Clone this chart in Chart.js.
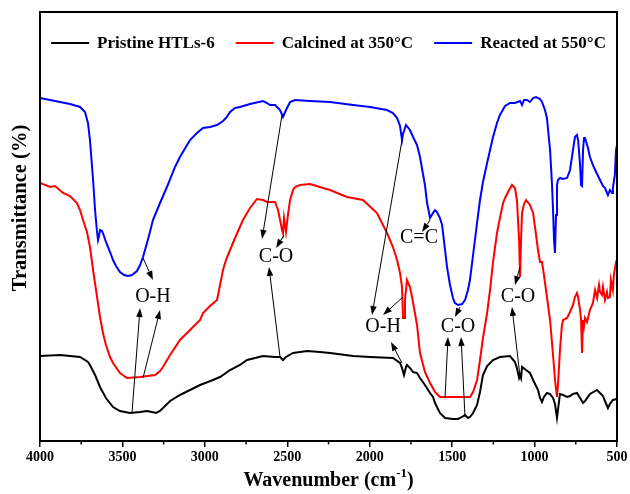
<!DOCTYPE html>
<html><head><meta charset="utf-8">
<script src="https://cdn.jsdelivr.net/npm/chart.js@4/dist/chart.umd.min.js"></script>
<style>html,body{margin:0;padding:0;background:#fff}#wrap{width:630px;height:494px}</style>
</head><body><div id="wrap"><canvas id="c" width="630" height="494"></canvas></div>
<script>
// ---- data (wavenumber in cm-1, transmittance in arbitrary units) ----
const seriesNames = ["Pristine HTLs-6", "Calcined at 350\u00B0C", "Reacted at 550\u00B0C"];
const seriesColors = ["#000000", "#ff0000", "#0000ff"];
const xTickValues = [4000, 3500, 3000, 2500, 2000, 1500, 1000, 500];
const yTitle = "Transmittance (%)";

const pristineWn = [4000,3879,3757,3709,3697,3666,3636,3600,3557,3515,3454,3393,3351,3321,3296,3272,3254,3211,3151,3090,3029,2951,2908,2847,2787,2744,2647,2574,2544,2526,2508,2465,2380,2302,2241,2101,1998,1859,1816,1804,1792,1780,1774,1756,1737,1713,1695,1665,1634,1616,1604,1574,1543,1495,1464,1440,1422,1404,1392,1373,1349,1331,1313,1288,1252,1210,1149,1119,1107,1094,1088,1082,1076,1052,1028,1009,991,979,967,955,943,925,906,888,876,864,858,846,827,803,785,767,743,724,706,694,664,621,603,585,573,555,543,525,500];
const pristineT  = [85,86,84,79,76,66,54,43,34,30,28,29,30,29,28,30,33,40,46,51,56,61,64,71,76,81,85,84,84,81,84,88,90,89,88,85,84,83,78,73,66,74,76,73,69,68,63,56,48,44,38,28,23,22,22,24,26,23,24,28,36,49,66,75,81,84,85,79,73,63,66,63,74,71,68,61,55,51,43,39,44,48,47,43,37,23,31,47,46,44,45,47,48,43,38,40,47,51,48,45,40,33,37,41,42];

const calcinedWn = [4000,3939,3909,3860,3818,3776,3757,3739,3715,3697,3678,3654,3636,3618,3600,3575,3557,3515,3472,3393,3302,3272,3254,3211,3151,3090,3029,3011,2969,2926,2908,2890,2872,2847,2817,2769,2726,2684,2647,2623,2574,2556,2544,2532,2526,2520,2508,2496,2483,2465,2453,2423,2362,2302,2241,2138,2041,1956,1895,1859,1834,1816,1804,1798,1792,1786,1774,1756,1743,1713,1695,1665,1634,1604,1574,1513,1422,1392,1373,1349,1331,1313,1288,1270,1252,1228,1210,1191,1179,1161,1137,1119,1107,1094,1088,1082,1076,1064,1052,1028,1009,991,979,967,955,943,925,906,888,876,864,858,846,834,827,803,785,767,755,743,736,724,718,712,706,700,694,682,664,646,633,621,609,603,591,585,573,561,555,543,537,525,519,506,500];
const calcinedT  = [258,254,255,248,245,238,231,221,209,194,171,144,124,108,96,84,78,68,63,64,66,70,74,86,101,111,121,128,135,141,156,171,181,191,203,221,233,242,241,239,239,231,221,211,208,223,209,226,241,251,254,256,257,254,251,244,241,228,208,194,181,168,154,123,123,141,161,154,144,116,88,69,58,49,44,44,44,44,49,61,81,103,128,151,179,208,223,238,243,249,256,253,241,201,164,201,228,237,241,236,228,206,191,179,179,166,144,121,86,61,44,56,91,116,121,123,129,136,144,148,144,131,121,88,121,115,123,119,131,138,151,143,156,149,146,154,141,149,143,144,161,151,166,179,181];

const reactedWn = [4000,3939,3879,3818,3757,3727,3709,3697,3678,3666,3654,3648,3642,3636,3624,3612,3600,3575,3557,3539,3515,3490,3466,3442,3412,3393,3375,3351,3333,3315,3272,3230,3181,3151,3090,3048,3011,2969,2926,2890,2872,2847,2817,2787,2726,2647,2623,2605,2574,2544,2526,2508,2483,2453,2362,2241,2101,1998,1895,1859,1834,1816,1804,1798,1780,1756,1737,1713,1695,1665,1652,1634,1616,1604,1592,1574,1561,1543,1531,1513,1495,1483,1464,1440,1422,1404,1392,1373,1349,1331,1313,1288,1270,1252,1228,1210,1179,1149,1119,1088,1076,1064,1046,1028,1009,991,967,955,937,925,918,906,894,888,882,876,870,864,858,846,827,803,785,767,755,743,736,724,718,712,706,700,694,676,664,646,621,603,585,573,555,543,530,525,513,506,500];
const reactedT  = [343,341,339,337,334,329,318,301,261,231,209,201,205,211,210,205,199,189,181,175,169,166,165,166,170,176,184,198,209,221,238,254,274,284,301,308,313,314,316,320,323,329,333,334,337,340,338,336,336,331,324,331,339,341,340,339,336,334,331,328,323,315,301,307,316,311,304,296,284,256,238,223,228,231,229,223,216,191,174,156,143,138,136,137,141,151,161,186,218,241,259,278,291,304,318,326,335,338,338,340,336,341,341,339,343,344,342,339,331,323,311,291,256,231,201,188,226,256,261,263,262,263,271,291,304,306,301,276,256,255,291,303,303,293,284,276,267,261,255,253,246,251,248,253,266,291,296];

// band assignments: label text and position (wavenumber, transmittance)
const bandLabels = ["O-H", "C-O", "C=C", "O-H", "C-O", "C-O"];
const bandLabelWn = [3315, 2568, 1701, 1919, 1464, 1100];
const bandLabelT  = [144, 184, 203, 114, 114, 144];
// arrows: from (wn, T) to (wn, T), arrowhead at the end
const arrowFromWn = [3375, 3442, 3375, 2532, 2520, 2544, 1804, 1798, 1804, 1634, 1452, 1543, 1422, 1088, 1088];
const arrowFromT  = [183, 28, 63, 326, 206, 84, 301, 144, 78, 221, 134, 44, 24, 174, 64];
const arrowToWn   = [3315, 3393, 3272, 2653, 2568, 2611, 1986, 1919, 1871, 1683, 1483, 1525, 1446, 1119, 1137];
const arrowToT    = [161, 133, 131, 202, 193, 174, 126, 126, 99, 209, 124, 104, 104, 156, 134];

function pairs(xs, ys) { return xs.map((x, i) => ({x: x, y: ys[i]})); }

const annotationPlugin = {
  id: 'bands',
  afterDatasetsDraw(chart) {
    const ctx = chart.ctx, xs = chart.scales.x, ys = chart.scales.y;
    ctx.save();
    ctx.strokeStyle = '#000'; ctx.fillStyle = '#000'; ctx.lineWidth = 1;
    for (let i = 0; i < arrowFromWn.length; i++) {
      const x1 = xs.getPixelForValue(arrowFromWn[i]), y1 = ys.getPixelForValue(arrowFromT[i]);
      const x2 = xs.getPixelForValue(arrowToWn[i]), y2 = ys.getPixelForValue(arrowToT[i]);
      const a = Math.atan2(y2 - y1, x2 - x1), L = 9, W = 3.2;
      const bx = x2 - L * Math.cos(a), by = y2 - L * Math.sin(a);
      ctx.beginPath(); ctx.moveTo(x1, y1); ctx.lineTo(bx, by); ctx.stroke();
      ctx.beginPath(); ctx.moveTo(x2, y2);
      ctx.lineTo(bx + W * Math.sin(a), by - W * Math.cos(a));
      ctx.lineTo(bx - W * Math.sin(a), by + W * Math.cos(a));
      ctx.closePath(); ctx.fill();
    }
    ctx.font = '20px "Liberation Serif", "Times New Roman", serif';
    ctx.textAlign = 'center'; ctx.textBaseline = 'middle';
    for (let i = 0; i < bandLabels.length; i++) {
      ctx.fillText(bandLabels[i], xs.getPixelForValue(bandLabelWn[i]), ys.getPixelForValue(bandLabelT[i]));
    }
    // legend inside the frame
    const a = chart.chartArea;
    ctx.font = 'bold 17px "Liberation Serif", serif';
    ctx.textAlign = 'left'; ctx.textBaseline = 'middle';
    const lineW = 38, gapT = 8, gapI = 21, ly = 43;
    const ds = chart.data.datasets;
    const widths = ds.map(d => lineW + gapT + ctx.measureText(d.label).width);
    const total = widths.reduce((s, w) => s + w, 0) + gapI * (ds.length - 1);
    let lx = (a.left + a.right) / 2 - total / 2;
    ds.forEach((d, i) => {
      ctx.strokeStyle = d.borderColor; ctx.lineWidth = 2;
      ctx.beginPath(); ctx.moveTo(lx, ly); ctx.lineTo(lx + lineW, ly); ctx.stroke();
      ctx.fillStyle = '#000';
      ctx.fillText(d.label, lx + lineW + gapT, ly + 1);
      lx += widths[i] + gapI;
    });
    ctx.restore();
  },
  afterDraw(chart) {
    const ctx = chart.ctx, a = chart.chartArea, xs = chart.scales.x;
    ctx.save();
    ctx.strokeStyle = '#000'; ctx.lineWidth = 2;
    ctx.strokeRect(a.left, a.top, a.right - a.left, a.bottom - a.top);
    // minor ticks
    ctx.lineWidth = 1.5;
    for (let i = 0; i < xTickValues.length - 1; i++) {
      const px = xs.getPixelForValue((xTickValues[i] + xTickValues[i + 1]) / 2);
      ctx.beginPath(); ctx.moveTo(px, a.bottom); ctx.lineTo(px, a.bottom + 3.5); ctx.stroke();
    }
    // x axis title with superscript
    ctx.fillStyle = '#000'; ctx.textBaseline = 'alphabetic'; ctx.textAlign = 'left';
    const big = 'bold 20px "Liberation Serif", serif', small = 'bold 13px "Liberation Serif", serif';
    const p1 = 'Wavenumber (cm', sup = '-1', p2 = ')';
    ctx.font = big; const w1 = ctx.measureText(p1).width, w3 = ctx.measureText(p2).width;
    ctx.font = small; const w2 = ctx.measureText(sup).width;
    const cx = (a.left + a.right) / 2, base = 486;
    let x0 = cx - (w1 + w2 + w3) / 2;
    ctx.font = big; ctx.fillText(p1, x0, base);
    ctx.font = small; ctx.fillText(sup, x0 + w1, base - 9);
    ctx.font = big; ctx.fillText(p2, x0 + w1 + w2, base);
    // y axis title
    ctx.translate(21, 208); ctx.rotate(-Math.PI / 2);
    ctx.font = 'bold 20.5px "Liberation Serif", serif';
    ctx.textAlign = 'center'; ctx.textBaseline = 'middle';
    ctx.fillText(yTitle, 0, 0);
    ctx.restore();
  }
};

new Chart(document.getElementById('c'), {
  type: 'line',
  data: {
    datasets: seriesNames.map((n, i) => ({
      label: n,
      data: pairs([pristineWn, calcinedWn, reactedWn][i], [pristineT, calcinedT, reactedT][i]),
      borderColor: seriesColors[i], backgroundColor: seriesColors[i],
      borderWidth: 2, pointRadius: 0, tension: 0, fill: false
    }))
  },
  options: {
    responsive: false, animation: false, devicePixelRatio: 1,
    layout: { padding: { top: 12, right: 13, left: 0, bottom: 0 } },
    plugins: { tooltip: { enabled: false }, legend: { display: false } },
    scales: {
      x: {
        type: 'linear', reverse: true, min: 500, max: 4000,
        afterBuildTicks: s => { s.ticks = xTickValues.map(v => ({value: v})); },
        afterFit: s => { s.height = 53; },
        border: { display: false },
        grid: { display: true, drawOnChartArea: false, drawTicks: true, tickLength: 6, color: '#000', lineWidth: 1.5 },
        ticks: { color: '#000', padding: 2, maxRotation: 0, callback: v => String(v),
                 font: { family: '"Liberation Serif", serif', size: 14, weight: 'bold' } },
        title: { display: false }
      },
      y: {
        min: 0, max: 429,
        afterFit: s => { s.width = 40; },
        border: { display: false },
        grid: { display: false },
        ticks: { display: false },
        title: { display: false }
      }
    }
  },
  plugins: [annotationPlugin]
});
</script></body></html>
